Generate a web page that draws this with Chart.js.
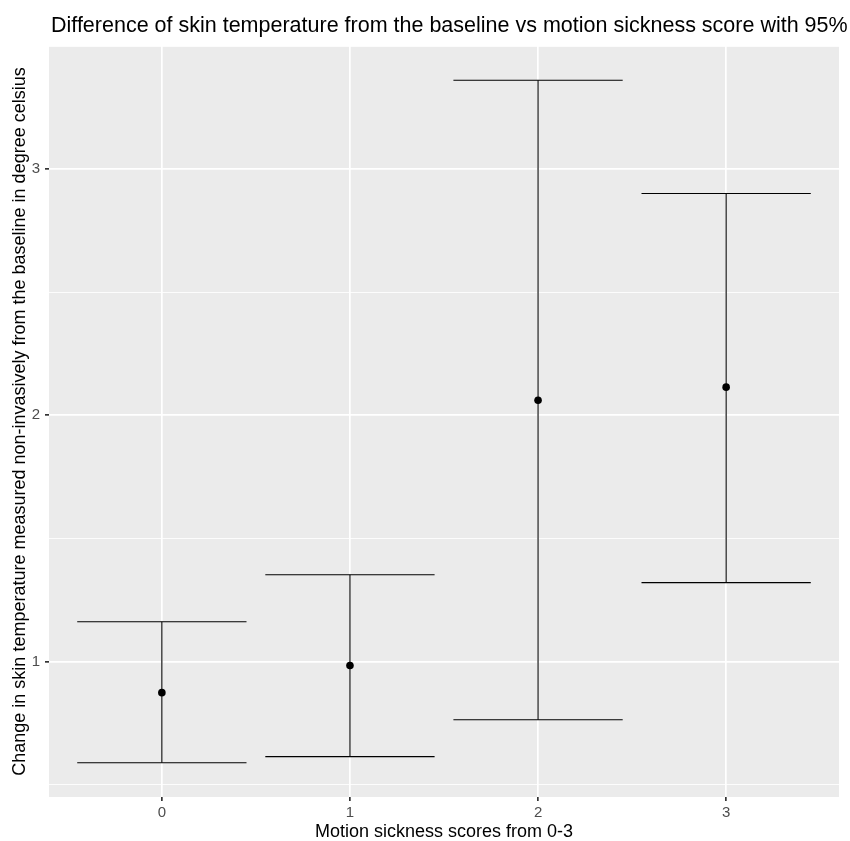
<!DOCTYPE html>
<html>
<head>
<meta charset="utf-8">
<script src="https://cdn.jsdelivr.net/npm/chart.js@4/dist/chart.umd.min.js"></script>
<style>
html,body{margin:0;padding:0;background:#fff;}
canvas{display:block;}
</style>
</head>
<body>
<canvas id="c" width="850" height="841"></canvas>
<script>
// Data
const categories = [0, 1, 2, 3];
const means = [0.873, 0.983, 2.061, 2.114];
const lower = [0.588, 0.613, 0.763, 1.320];
const upper = [1.161, 1.352, 3.361, 2.901];
const yTicks = [0.5, 1, 1.5, 2, 2.5, 3, 3.5];
const xTicks = [0, 1, 2, 3];

const titleText = "Difference of skin temperature from the baseline vs motion sickness score with 95% confidence interval";
const xTitle = "Motion sickness scores from 0-3";
const yTitle = "Change in skin temperature measured non-invasively from the baseline in degree celsius";

const capHalf = 0.45;
const FONT = "'Liberation Sans', Arial, sans-serif";

const datasets = [];
categories.forEach((c, i) => {
  const base = {type: 'line', borderColor: '#000', borderWidth: 1.1, pointRadius: 0, fill: false, tension: 0};
  datasets.push(Object.assign({}, base, {data: [{x: c, y: lower[i]}, {x: c, y: upper[i]}]}));
  datasets.push(Object.assign({}, base, {data: [{x: c - capHalf, y: upper[i]}, {x: c + capHalf, y: upper[i]}]}));
  datasets.push(Object.assign({}, base, {data: [{x: c - capHalf, y: lower[i]}, {x: c + capHalf, y: lower[i]}]}));
});
datasets.push({
  type: 'scatter',
  data: categories.map((c, i) => ({x: c, y: means[i]})),
  pointRadius: 3.8,
  pointBackgroundColor: '#000',
  pointBorderColor: '#000',
  pointBorderWidth: 0
});

const panelBg = {
  id: 'panelBg',
  beforeDraw(chart) {
    const a = chart.chartArea, ctx = chart.ctx;
    ctx.save();
    ctx.fillStyle = '#EBEBEB';
    ctx.fillRect(a.left, a.top, a.right - a.left, a.bottom - a.top);
    ctx.restore();
  }
};
const mainTitle = {
  id: 'mainTitle',
  afterDraw(chart) {
    const ctx = chart.ctx;
    ctx.save();
    ctx.fillStyle = '#000';
    ctx.font = '21.5px ' + FONT;
    ctx.textAlign = 'left';
    ctx.textBaseline = 'alphabetic';
    ctx.fillText(titleText, 51, 32);
    ctx.restore();
  }
};

new Chart(document.getElementById('c'), {
  data: {datasets},
  options: {
    responsive: false,
    devicePixelRatio: 1,
    animation: false,
    layout: {padding: {left: 0, right: 11, top: 46, bottom: 0}},
    plugins: {legend: {display: false}, tooltip: {enabled: false}, title: {display: false}},
    scales: {
      x: {
        type: 'linear',
        min: -0.6, max: 3.6,
        afterBuildTicks(s) { s.ticks = xTicks.map(v => ({value: v})); },
        afterFit(s) { s.height = 44; },
        border: {display: false},
        grid: {color: '#FFFFFF', lineWidth: 1.7, tickColor: '#333333', tickLength: 4, drawTicks: true},
        ticks: {color: '#4D4D4D', font: {family: FONT, size: 15}, padding: 3, maxRotation: 0, autoSkip: false,
          callback: v => String(v)},
        title: {display: true, text: xTitle, color: '#000', font: {family: FONT, size: 18, lineHeight: 1}, padding: {top: 0, bottom: 0}}
      },
      y: {
        type: 'linear',
        min: 0.449, max: 3.5,
        afterBuildTicks(s) { s.ticks = yTicks.map(v => ({value: v})); },
        afterFit(s) { s.width = 49; },
        border: {display: false},
        grid: {
          color: '#FFFFFF',
          lineWidth: ctx => (ctx.tick && Number.isInteger(ctx.tick.value)) ? 1.7 : 0.85,
          tickColor: ctx => (ctx.tick && Number.isInteger(ctx.tick.value)) ? '#333333' : 'rgba(0,0,0,0)',
          tickLength: 4, drawTicks: true
        },
        ticks: {color: '#4D4D4D', font: {family: FONT, size: 15}, padding: 5, autoSkip: false,
          callback: v => Number.isInteger(v) ? String(v) : ''},
        title: {display: true, text: yTitle, color: '#000', font: {family: FONT, size: 18, lineHeight: 1}, padding: {top: 11, bottom: 0}}
      }
    }
  },
  plugins: [panelBg, mainTitle]
});
</script>
</body>
</html>
